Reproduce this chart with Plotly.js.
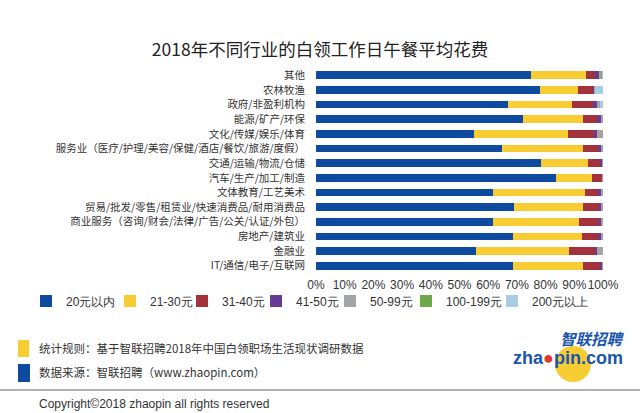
<!DOCTYPE html>
<html>
<head>
<meta charset="utf-8">
<script src="https://cdn.plot.ly/plotly-3.0.1.min.js"></script>
<style>html,body{margin:0;padding:0;background:#fff;}#chart{width:640px;height:413px;}</style>
</head>
<body>
<div id="chart"></div>
<script>
// Categories, top to bottom
const categories = [
  "其他",
  "农林牧渔",
  "政府/非盈利机构",
  "能源/矿产/环保",
  "文化/传媒/娱乐/体育",
  "服务业（医疗/护理/美容/保健/酒店/餐饮/旅游/度假）",
  "交通/运输/物流/仓储",
  "汽车/生产/加工/制造",
  "文体教育/工艺美术",
  "贸易/批发/零售/租赁业/快速消费品/耐用消费品",
  "商业服务（咨询/财会/法律/广告/公关/认证/外包）",
  "房地产/建筑业",
  "金融业",
  "IT/通信/电子/互联网"
];
const seriesNames = ["20元以内", "21-30元", "31-40元", "41-50元", "50-99元", "100-199元", "200元以上"];
const s20  = [74.8, 78.0, 67.0, 72.0, 55.1, 64.7, 78.3, 83.6, 61.8, 69.0, 61.8, 68.5, 55.7, 68.7];
const s30  = [19.3, 13.2, 22.1, 21.1, 32.6, 28.2, 16.6, 12.5, 31.9, 24.1, 29.9, 24.3, 32.6, 24.2];
const s40  = [3.1, 5.2, 7.5, 4.7, 9.3, 5.5, 4.0, 3.4, 4.7, 5.6, 7.0, 5.6, 9.0, 6.1];
const s50  = [1.5, 0.5, 1.2, 1.5, 0.8, 0.9, 0.6, 0.2, 0.9, 0.6, 0.6, 0.9, 0.6, 0.5];
const s99  = [0.7, 0.3, 1.1, 0.6, 2.1, 0.6, 0.4, 0.2, 0.6, 0.6, 0.6, 0.6, 2.0, 0.4];
const s199 = [0.1, 0.0, 0.1, 0.1, 0.1, 0.1, 0.1, 0.1, 0.1, 0.1, 0.1, 0.1, 0.1, 0.1];
const s200 = [0.5, 2.8, 1.0, 0.0, 0.0, 0.0, 0.0, 0.0, 0.0, 0.0, 0.0, 0.0, 0.0, 0.0];
const xTicks = [0, 10, 20, 30, 40, 50, 60, 70, 80, 90, 100];

const colors = ["#0e4a9f", "#f8cd33", "#a3323d", "#673b94", "#a4a4a4", "#6fa84a", "#a8cce4"];
const values = [s20, s30, s40, s50, s99, s199, s200];

const legendIds = values.map((v, i) => i === 0 ? "legend" : "legend" + (i + 1));

const traces = values.map((v, i) => ({
  type: "bar",
  orientation: "h",
  name: seriesNames[i],
  x: v,
  y: categories,
  legend: legendIds[i],
  marker: {color: colors[i], line: {width: 0}},
  hoverinfo: "x+y+name"
}));

const W = 640, H = 413;
const mL = 316, mR = 37, mT = 68, mB = 140;
const pw = W - mL - mR, ph = H - mT - mB;
const px = x => (x - mL) / pw;
const py = y => (H - mB - y) / ph;

const cjk = '"Noto Sans CJK SC", "Noto Sans", sans-serif';
const latin = '"Liberation Sans", Arial, sans-serif';

// left edge (px) of each one-item legend
const legendLeft = [26, 110, 182, 256, 330, 406, 492];

const layout = {
  width: W, height: H,
  margin: {l: mL, r: mR, t: mT, b: mB, pad: 0, autoexpand: false},
  paper_bgcolor: "#ffffff",
  plot_bgcolor: "#ffffff",
  barmode: "stack",
  bargap: 0.47,
  font: {family: cjk, color: "#333333", size: 11},
  title: {
    text: "2018年不同行业的白领工作日午餐平均花费",
    font: {family: cjk, size: 17.5, color: "#222222"},
    x: 0.5, xref: "container", xanchor: "center",
    y: 1 - 50 / H, yref: "container", yanchor: "middle"
  },
  xaxis: {
    range: [0, 100],
    tickvals: xTicks,
    ticktext: xTicks.map(t => t + "%"),
    tickangle: 0,
    showgrid: false, zeroline: false, showline: false,
    ticks: "", ticklabelstandoff: 3,
    tickfont: {family: latin, size: 12, color: "#333333"},
    fixedrange: true
  },
  yaxis: {
    autorange: "reversed",
    showgrid: false, zeroline: false, showline: false,
    ticks: "", ticklabelstandoff: 10,
    tickfont: {family: cjk, size: 10.5, color: "#333333"},
    fixedrange: true
  },
  showlegend: true,
  shapes: [
    {type: "rect", xref: "paper", yref: "paper", x0: px(18), x1: px(29), y0: py(340), y1: py(357), fillcolor: "#f8cd33", line: {width: 0}},
    {type: "rect", xref: "paper", yref: "paper", x0: px(18), x1: px(30), y0: py(364), y1: py(382), fillcolor: "#0e4a9f", line: {width: 0}},
    {type: "line", xref: "paper", yref: "paper", x0: px(0), x1: px(640), y0: py(390), y1: py(390), line: {color: "#9a9a9a", width: 1.5}},
    {type: "circle", xref: "paper", yref: "paper", x0: px(555), x1: px(591), y0: py(346), y1: py(382), fillcolor: "#f8cd33", line: {width: 0}, layer: "below"}
  ],
  annotations: [
    {xref: "paper", yref: "paper", x: px(37), y: py(348), xanchor: "left", yanchor: "middle", showarrow: false,
     text: "统计规则：基于智联招聘2018年中国白领职场生活现状调研数据", font: {family: cjk, size: 11.5, color: "#333333"}},
    {xref: "paper", yref: "paper", x: px(37), y: py(372), xanchor: "left", yanchor: "middle", showarrow: false,
     text: "数据来源：智联招聘（www.zhaopin.com）", font: {family: cjk, size: 11.5, color: "#333333"}},
    {xref: "paper", yref: "paper", x: px(37), y: py(404), xanchor: "left", yanchor: "middle", showarrow: false,
     text: "Copyright©2018 zhaopin all rights reserved", font: {family: latin, size: 12, color: "#333333"}},
    {xref: "paper", yref: "paper", x: px(627), y: py(338), xanchor: "right", yanchor: "middle", showarrow: false,
     text: "<b><i>智联招聘</i></b>", font: {family: cjk, size: 15.5, color: "#1a56b0"}},
    {xref: "paper", yref: "paper", x: px(625), y: py(358), xanchor: "right", yanchor: "middle", showarrow: false,
     text: "<b>zha<span style=\"color:#e0392e\">●</span>pin.com</b>", font: {family: latin, size: 18, color: "#1a56b0"}}
  ]
};

legendIds.forEach((id, i) => {
  layout[id] = {
    orientation: "h",
    xref: "paper", yref: "paper",
    x: px(legendLeft[i]), xanchor: "left",
    y: py(301), yanchor: "middle",
    font: {family: latin, size: 12, color: "#333333"},
    itemwidth: 30,
    bgcolor: "rgba(0,0,0,0)"
  };
});

Plotly.newPlot("chart", traces, layout, {displayModeBar: false, staticPlot: true});
</script>
</body>
</html>
